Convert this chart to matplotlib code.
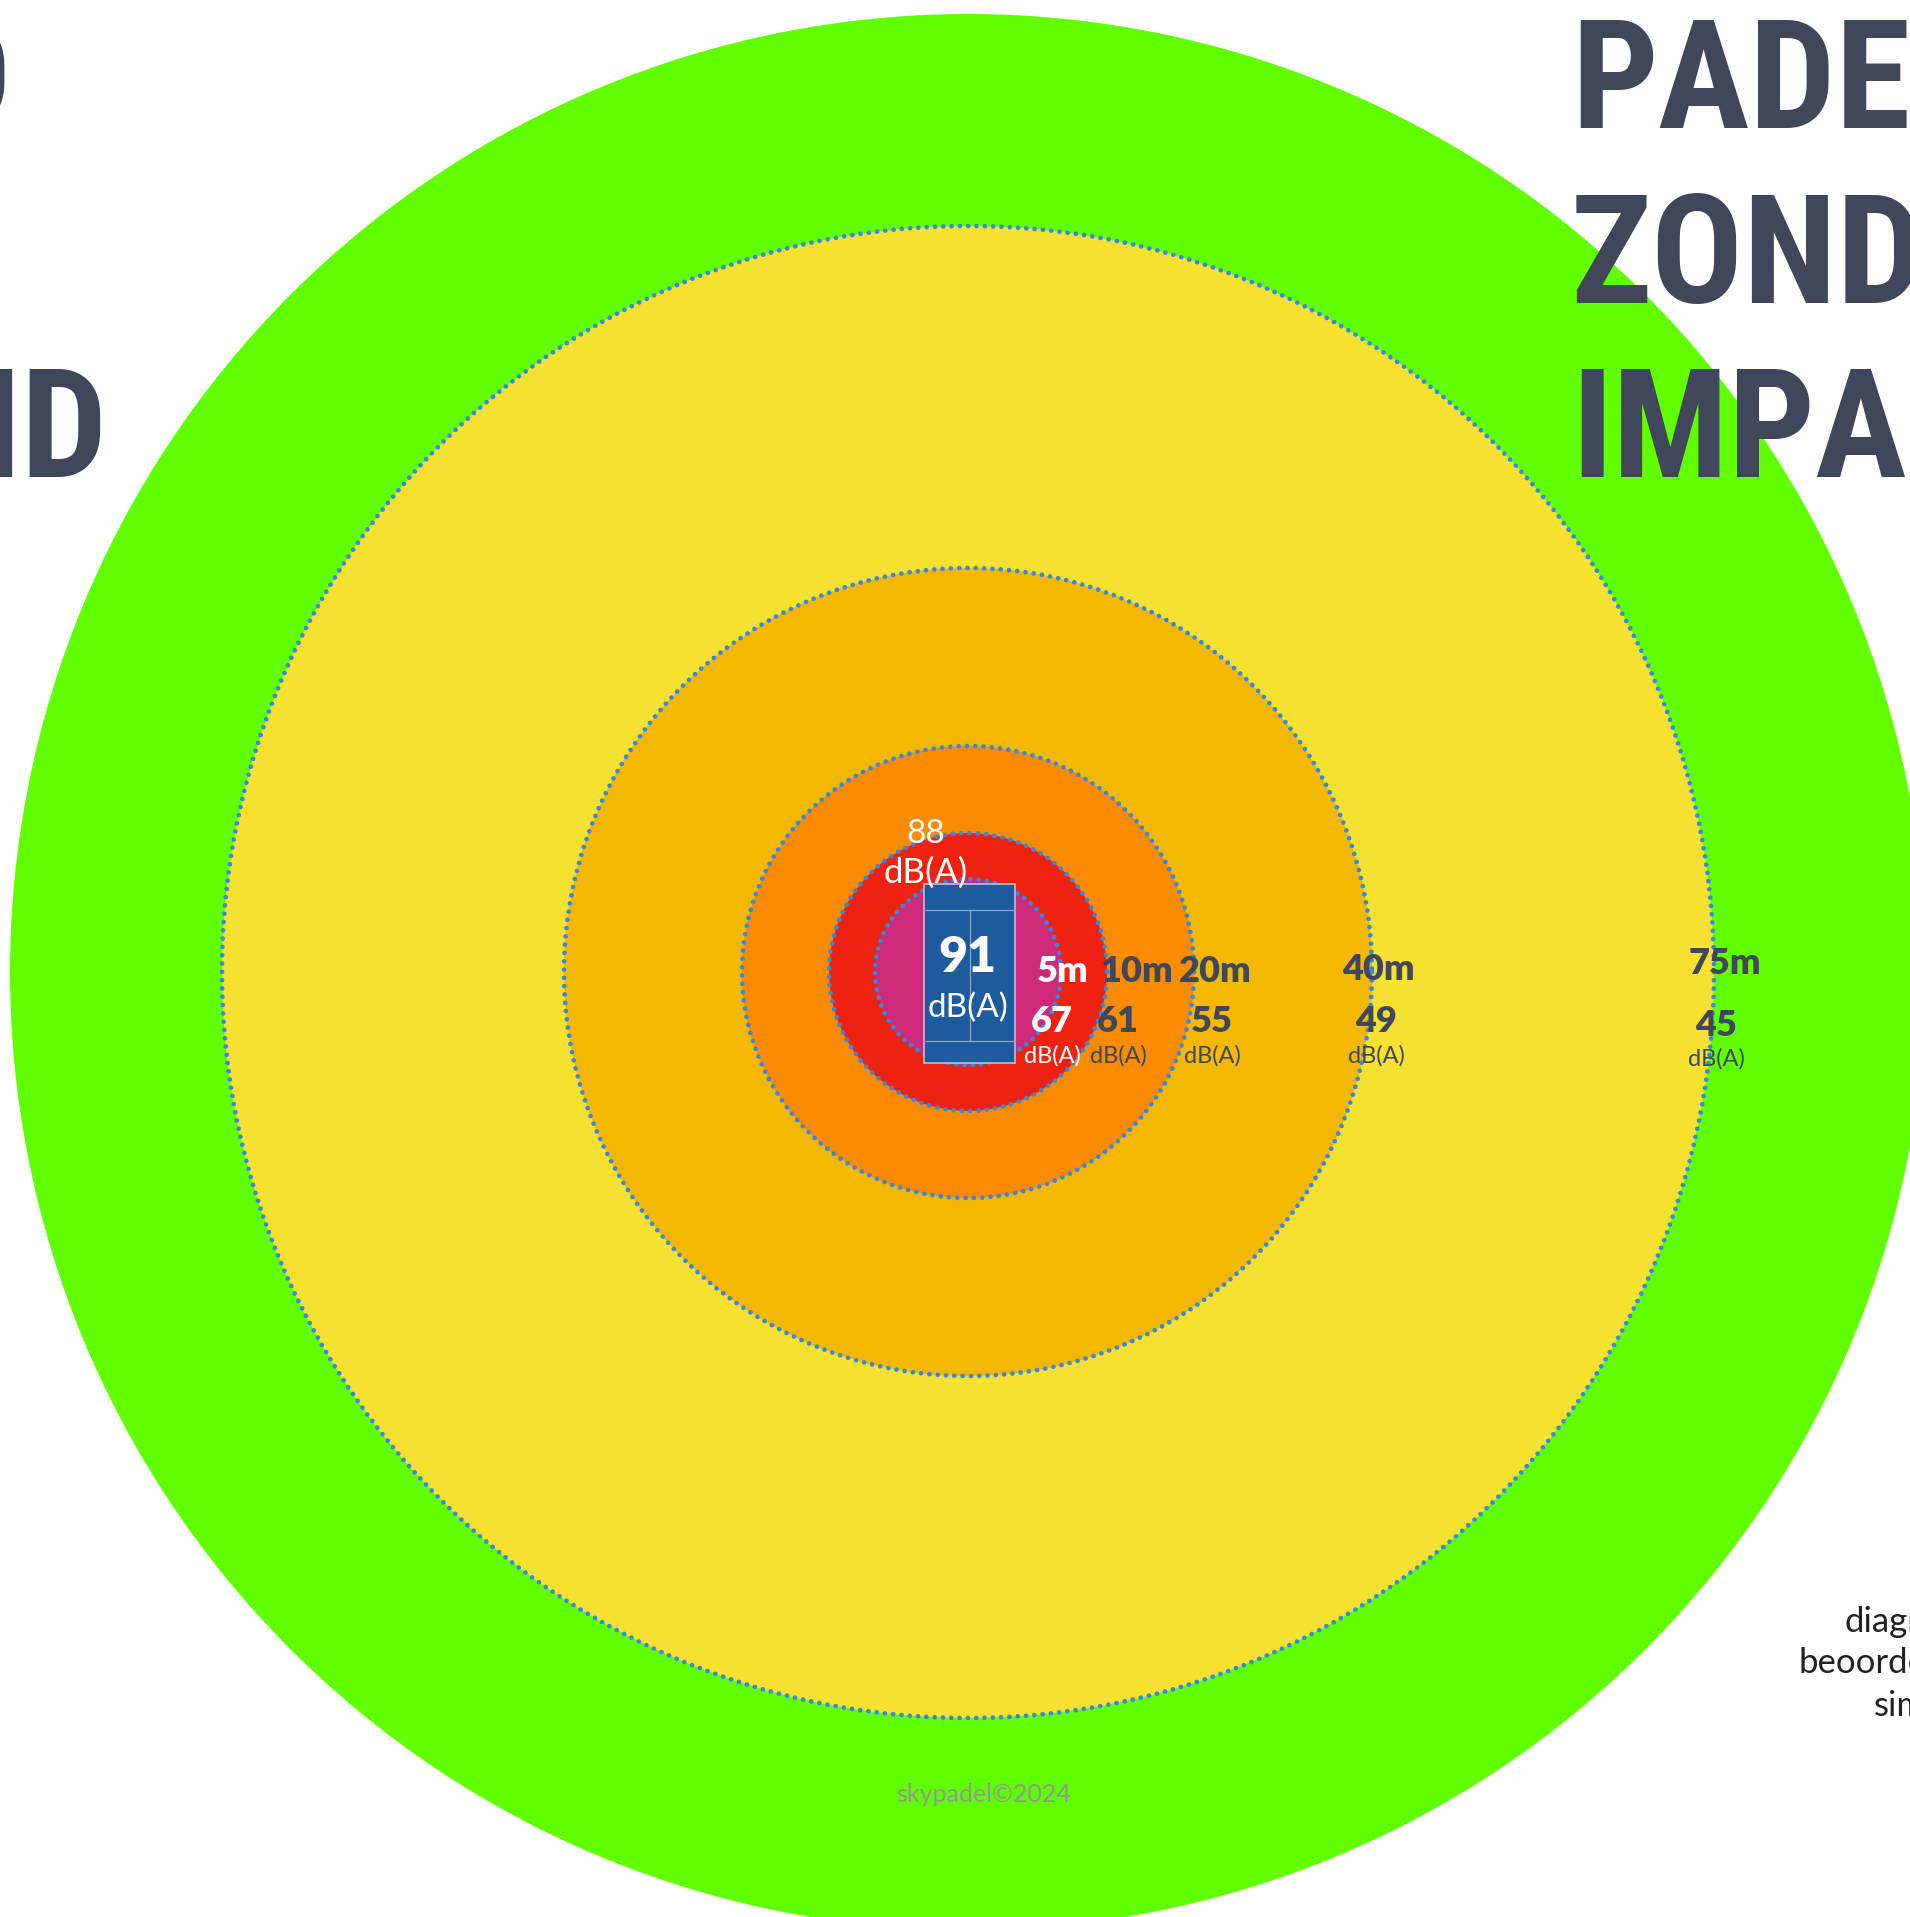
import matplotlib
matplotlib.use("Agg")
import matplotlib.pyplot as plt
import numpy as np
from matplotlib.patches import Circle, Rectangle

# rings, from the court outwards
distances_m = [5, 10, 20, 40, 75]
levels_dba = [67, 61, 55, 49, 45]
court_level = 91
court_edge_level = 88

ring_colors = ["#CD2A7C", "#EE2210", "#FB8B00", "#F5B800", "#F6E030"]
outer_color = "#62FF00"
dot_color = "#3389E8"
dark = "#41475A"

# layout in pixels (figure is 1910 x 1917)
W, H = 1910, 1917
cx, cy = 968, 972
outer_r = 958
ring_r = [93, 139, 226, 404, 746]
dist_x = [1063, 1137, 1215, 1378, 1725]
dist_y = [971, 971, 971, 970, 963]
level_x = [1052, 1118, 1212, 1376, 1716]
level_y = [1022, 1022, 1022, 1022, 1025]
label_colors = ["white", dark, dark, dark, dark]

fig = plt.figure(figsize=(W / 100, H / 100), dpi=100)
ax = fig.add_axes([0, 0, 1, 1])
ax.set_xlim(0, W)
ax.set_ylim(H, 0)
ax.axis("off")

theta = np.linspace(0, 2 * np.pi, 1400)
ax.add_patch(Circle((cx, cy), outer_r, color=outer_color, lw=0, zorder=1))
for i in range(len(distances_m) - 1, -1, -1):
    r = ring_r[i]
    z = 2 + (5 - i)
    ax.add_patch(Circle((cx, cy), r, color=ring_colors[i], lw=0, zorder=z))
    ax.plot(cx + r * np.cos(theta), cy + r * np.sin(theta), color=dot_color,
            lw=3.4, linestyle=(0, (0.01, 1.75)), dash_capstyle="round",
            zorder=z + 0.5)

# padel court in the middle
court_w, court_h = 91, 179
x0, y0 = 924, 884
ax.add_patch(Rectangle((x0, y0), court_w, court_h, fc="#1D5B9C",
                       ec="#B9C2CF", lw=1.2, zorder=10))
svc_top, svc_bot = 26, 22
line_kw = dict(color="#8FA6C4", lw=0.9, zorder=11)
ax.plot([x0, x0 + court_w], [y0 + svc_top] * 2, **line_kw)
ax.plot([x0, x0 + court_w], [y0 + court_h - svc_bot] * 2, **line_kw)
ax.plot([x0 + court_w / 2] * 2, [y0 + svc_top, y0 + court_h - svc_bot], **line_kw)

lab_font = ["Lato", "DejaVu Sans"]

ax.text(967, 957, str(court_level), color="white", fontsize=36, fontweight="heavy",
        family=lab_font, ha="center", va="center", zorder=12)
ax.text(968, 1008, "dB(A)", color="white", fontsize=24,
        family=lab_font, ha="center", va="center", zorder=12)
ax.text(926, 834, str(court_edge_level), color="white", fontsize=24,
        family=lab_font, ha="center", va="center", zorder=12)
ax.text(926, 873, "dB(A)", color="white", fontsize=25,
        family=lab_font, ha="center", va="center", zorder=12)

for d, lv, xd, yd, xl, yl, c in zip(distances_m, levels_dba, dist_x, dist_y,
                                     level_x, level_y, label_colors):
    ax.text(xd, yd, f"{d}m", color=c, fontsize=26, fontweight="heavy",
            family=lab_font, ha="center", va="center", zorder=12)
    ax.text(xl, yl, str(lv), color=c, fontsize=26, fontweight="heavy",
            family=lab_font, ha="center", va="center", zorder=12)
    ax.text(xl, yl + 34, "dB(A)", color=c, fontsize=17,
            family=lab_font, ha="center", va="center", zorder=12)

# big condensed headings (partly cut off at the figure edges, as in the source)
title_font = ["Roboto Condensed", "DejaVu Sans"]
for txt, yb in zip(["PADELBAAN", "ZONDER", "IMPACTSCHERM"], [128, 303, 477]):
    ax.text(1571, yb, txt, color=dark, fontsize=110, fontweight="bold",
            fontstretch="condensed", family=title_font,
            ha="left", va="baseline", zorder=20)
for txt, xr, yb in zip(["GELUID", "GELUIDSWAND"], [12, 108], [128, 477]):
    ax.text(xr, yb, txt, color=dark, fontsize=110, fontweight="bold",
            fontstretch="condensed", family=title_font,
            ha="right", va="baseline", zorder=20)

# side note, cut off at the right edge
for txt, xs, yc in zip(["diagram", "beoordeling", "simulatie"],
                       [1844, 1798, 1874], [1622, 1663, 1706]):
    ax.text(xs, yc, txt, color="#222222", fontsize=25,
            family=lab_font, ha="left", va="center", zorder=20)

ax.text(984, 1795, "skypadel\u00a92024", color="#8C9A8C", fontsize=18,
        family=lab_font, ha="center", va="center", zorder=20)

fig.savefig("out.png", dpi=100)
